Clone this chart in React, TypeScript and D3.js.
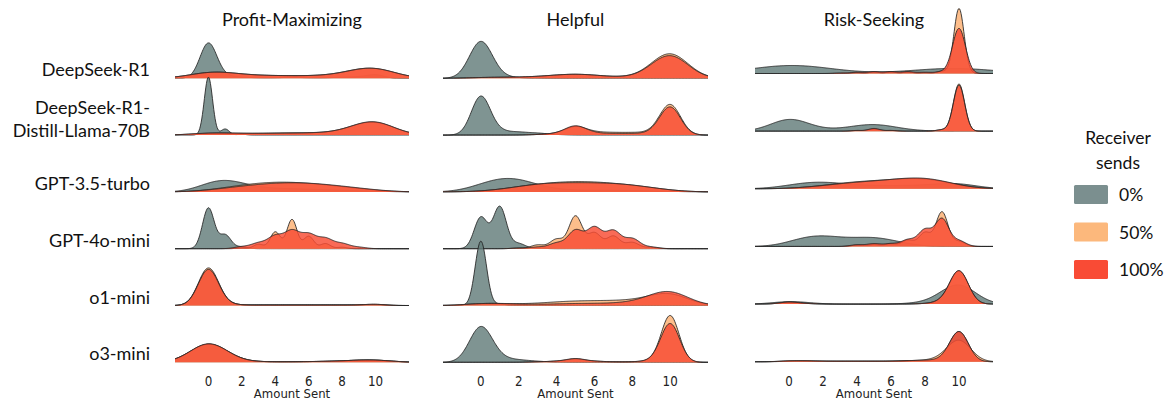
import React from "react";
import * as d3 from "d3";

// ---------------- data ----------------
const columns = ["Profit-Maximizing", "Helpful", "Risk-Seeking"];
const modelLabels = [
  ["DeepSeek-R1"],
  ["DeepSeek-R1-", "Distill-Llama-70B"],
  ["GPT-3.5-turbo"],
  ["GPT-4o-mini"],
  ["o1-mini"],
  ["o3-mini"],
];
const amounts = [0, 1, 2, 3, 4, 5, 6, 7, 8, 9, 10];
const xTicks = [0, 2, 4, 6, 8, 10];
const receiverSends = ["0%", "50%", "100%"];

// kernel bandwidth per model row: [0%, 50%, 100%]
const profitBandwidth = [
  [0.5, 1.3, 1.3],
  [0.25, 1.2, 1.2],
  [1.0, 1.2, 1.2],
  [0.35, 0.3, 0.45],
  [0.6, 0.6, 0.6],
  [1.1, 1.1, 1.1],
];
// share of responses at each amount 0..10
const profitSent0 = [
  [0.8, 0.05, 0.02, 0.01, 0.01, 0.02, 0.01, 0.01, 0.02, 0.03, 0.08],
  [0.66, 0.07, 0.01, 0, 0, 0, 0, 0, 0, 0, 0],
  [0.2, 0.3, 0.15, 0.08, 0.06, 0.06, 0.05, 0.04, 0.03, 0.02, 0.02],
  [0.65, 0.22, 0.03, 0, 0, 0, 0, 0, 0, 0, 0],
  [0.97, 0.03, 0.01, 0.01, 0.01, 0.01, 0.01, 0.01, 0.01, 0.01, 0.02],
  [0.88, 0.04, 0.01, 0.01, 0.01, 0.01, 0.01, 0.02, 0.02, 0.04, 0.08],
];
const profitSent50 = [
  [0.25, 0.1, 0.06, 0.05, 0.05, 0.05, 0.04, 0.05, 0.06, 0.17, 0.43],
  [0.07, 0.03, 0.03, 0.03, 0.04, 0.05, 0.04, 0.04, 0.05, 0.15, 0.58],
  [0.03, 0.08, 0.13, 0.17, 0.19, 0.19, 0.16, 0.13, 0.1, 0.06, 0.03],
  [0, 0, 0.01, 0.06, 0.23, 0.4, 0.17, 0.07, 0.02, 0, 0],
  [1.02, 0.03, 0.01, 0.01, 0.01, 0.01, 0.01, 0.01, 0.01, 0.01, 0.03],
  [0.88, 0.04, 0.01, 0.01, 0.01, 0.01, 0.01, 0.02, 0.02, 0.04, 0.08],
];
const profitSent100 = [
  [0.25, 0.1, 0.06, 0.05, 0.05, 0.05, 0.04, 0.05, 0.06, 0.15, 0.45],
  [0.08, 0.03, 0.03, 0.03, 0.03, 0.04, 0.04, 0.04, 0.05, 0.15, 0.6],
  [0.03, 0.07, 0.11, 0.14, 0.17, 0.18, 0.17, 0.14, 0.11, 0.07, 0.04],
  [0, 0, 0.04, 0.11, 0.25, 0.35, 0.28, 0.2, 0.1, 0.03, 0],
  [0.98, 0.03, 0.01, 0.01, 0.01, 0.01, 0.01, 0.01, 0.01, 0.01, 0.03],
  [0.9, 0.04, 0.01, 0.01, 0.01, 0.01, 0.01, 0.02, 0.02, 0.04, 0.08],
];

const helpfulBandwidth = [
  [0.6, 0.95, 0.95],
  [0.5, 0.55, 0.55],
  [1.0, 1.0, 1.0],
  [0.35, 0.35, 0.4],
  [0.3, 1.0, 1.0],
  [0.6, 0.47, 0.5],
];
const helpfulSent0 = [
  [1.0, 0.04, 0.01, 0, 0, 0, 0, 0, 0, 0, 0],
  [0.88, 0.08, 0.06, 0.04, 0.01, 0, 0, 0, 0, 0, 0],
  [0.15, 0.3, 0.3, 0.1, 0.04, 0.03, 0.03, 0.03, 0.03, 0.02, 0.01],
  [0.5, 0.67, 0.08, 0.01, 0, 0, 0, 0, 0, 0, 0],
  [0.88, 0.02, 0, 0, 0, 0, 0, 0, 0, 0, 0],
  [0.96, 0.08, 0.05, 0.02, 0, 0, 0, 0, 0, 0, 0],
];
const helpfulSent50 = [
  [0.02, 0.02, 0.02, 0.03, 0.06, 0.1, 0.06, 0.02, 0.02, 0.05, 1.03],
  [0, 0, 0, 0.01, 0.03, 0.2, 0.06, 0.05, 0.05, 0.05, 0.76],
  [0.01, 0.04, 0.1, 0.15, 0.18, 0.2, 0.19, 0.16, 0.13, 0.08, 0.03],
  [0, 0, 0.01, 0.06, 0.15, 0.52, 0.25, 0.2, 0.1, 0.02, 0],
  [0.06, 0.04, 0.02, 0.04, 0.07, 0.09, 0.09, 0.09, 0.1, 0.12, 0.45],
  [0, 0, 0, 0.01, 0.02, 0.07, 0.02, 0.01, 0.01, 0.03, 1.0],
];
const helpfulSent100 = [
  [0.02, 0.02, 0.02, 0.03, 0.06, 0.1, 0.06, 0.02, 0.02, 0.05, 0.95],
  [0, 0, 0, 0.01, 0.03, 0.22, 0.04, 0.03, 0.03, 0.04, 0.7],
  [0.01, 0.04, 0.1, 0.16, 0.17, 0.17, 0.17, 0.16, 0.14, 0.08, 0.03],
  [0, 0, 0.01, 0.03, 0.1, 0.33, 0.38, 0.32, 0.18, 0.03, 0],
  [0.06, 0.04, 0.02, 0.02, 0.03, 0.04, 0.04, 0.04, 0.06, 0.12, 0.55],
  [0, 0, 0, 0.01, 0.02, 0.08, 0.02, 0.01, 0.01, 0.03, 0.88],
];

const riskBandwidth = [
  [2.3, 0.3, 0.38],
  [1.1, 0.33, 0.33],
  [1.2, 1.2, 1.2],
  [0.9, 0.35, 0.4],
  [1.0, 0.55, 0.55],
  [0.55, 0.7, 0.55],
];
const riskSent0 = [
  [0.7, 0.15, 0, 0, 0, 0, 0, 0, 0.05, 0.1, 0.4],
  [0.55, 0.05, 0.02, 0.03, 0.1, 0.2, 0.08, 0.02, 0, 0, 0],
  [0.06, 0.15, 0.15, 0.1, 0.06, 0.06, 0.06, 0.06, 0.06, 0.08, 0.2],
  [0.08, 0.2, 0.22, 0.16, 0.15, 0.2, 0.12, 0.05, 0, 0, 0],
  [0.1, 0.02, 0, 0, 0, 0, 0, 0.01, 0.03, 0.08, 0.82],
  [0.01, 0.01, 0.01, 0.01, 0.01, 0.01, 0.01, 0.02, 0.02, 0.03, 0.75],
];
const riskSent50 = [
  [0, 0, 0, 0, 0.01, 0.02, 0.02, 0.02, 0.01, 0.03, 0.89],
  [0, 0, 0, 0, 0.01, 0.03, 0.01, 0, 0, 0.02, 0.71],
  [0, 0.03, 0.05, 0.11, 0.14, 0.15, 0.16, 0.2, 0.23, 0.15, 0.05],
  [0, 0, 0, 0, 0.02, 0.03, 0.04, 0.1, 0.22, 0.55, 0.08],
  [0.05, 0.01, 0, 0, 0, 0, 0, 0, 0.01, 0.05, 0.82],
  [0.02, 0.02, 0.01, 0.01, 0.01, 0.01, 0.01, 0.02, 0.03, 0.05, 0.67],
];
const riskSent100 = [
  [0, 0, 0, 0.01, 0.02, 0.03, 0.03, 0.03, 0.02, 0.03, 0.78],
  [0, 0, 0, 0, 0.01, 0.04, 0.01, 0, 0, 0.02, 0.69],
  [0, 0.03, 0.05, 0.1, 0.13, 0.14, 0.16, 0.21, 0.25, 0.16, 0.05],
  [0, 0, 0, 0, 0.03, 0.05, 0.05, 0.12, 0.3, 0.5, 0.1],
  [0.05, 0.01, 0, 0, 0, 0, 0, 0, 0.01, 0.05, 0.83],
  [0.02, 0.02, 0.01, 0.01, 0.01, 0.01, 0.01, 0.02, 0.03, 0.04, 0.75],
];

const columnData = [
  { bw: profitBandwidth, series: [profitSent0, profitSent50, profitSent100] },
  { bw: helpfulBandwidth, series: [helpfulSent0, helpfulSent50, helpfulSent100] },
  { bw: riskBandwidth, series: [riskSent0, riskSent50, riskSent100] },
];

// ---------------- layout / style ----------------
const W = 1170;
const H = 398;
const colRange: [number, number][] = [
  [175, 409],
  [443, 708],
  [755, 993],
];
const colRows: [number, number][] = [
  [78.3, 56.8],
  [78.3, 56.8],
  [73.5, 57.65],
];
const DENS_PX = 55;
const fills = ["#637c7a", "#fdb072", "#f84a32"];
const legendFills = ["#7b8f8f", "#fcb87c", "#f94b35"];
const labelFont = "Lato, 'Open Sans', sans-serif";
const tickFont = "'DejaVu Sans', sans-serif";

const grid = d3.range(-2, 12.0001, 0.04);

function kde(weights: number[], bw: number): [number, number][] {
  const norm = 1 / (bw * Math.sqrt(2 * Math.PI));
  return grid.map((x) => {
    let s = 0;
    for (let i = 0; i < amounts.length; i++) {
      const w = weights[i];
      if (!w) continue;
      const z = (x - amounts[i]) / bw;
      s += w * Math.exp(-0.5 * z * z) * norm;
    }
    return [x, s];
  });
}

export default function App() {
  const yScale = d3.scaleLinear().domain([0, 1]).range([0, DENS_PX]);

  return (
    <svg
      width={W}
      height={H}
      style={{ position: "absolute", left: 0, top: 0, background: "#fff" }}
    >
      {columns.map((title, c) => {
        const x = d3.scaleLinear().domain([-2, 12]).range(colRange[c]);
        const [b0, step] = colRows[c];
        const cx = (colRange[c][0] + colRange[c][1]) / 2;
        return (
          <g key={title}>
            <text
              x={cx}
              y={25.5}
              textAnchor="middle"
              fontFamily={labelFont}
              fontSize={18}
              fill="#111"
            >
              {title}
            </text>
            {modelLabels.map((_, r) => {
              const base = b0 + r * step;
              const area = d3
                .area<[number, number]>()
                .x((d) => x(d[0]))
                .y0(base)
                .y1((d) => base - yScale(d[1]));
              const line = d3
                .line<[number, number]>()
                .x((d) => x(d[0]))
                .y((d) => base - yScale(d[1]));
              return (
                <g key={r}>
                  {columnData[c].series.map((s, k) => {
                    const pts = kde(s[r], columnData[c].bw[r][k]);
                    return (
                      <g key={k}>
                        <path d={area(pts) || ""} fill={fills[k]} fillOpacity={0.82} />
                        <path
                          d={line(pts) || ""}
                          fill="none"
                          stroke="#222"
                          strokeWidth={1}
                          strokeOpacity={0.85}
                        />
                      </g>
                    );
                  })}
                </g>
              );
            })}
            {xTicks.map((t) => (
              <text
                key={t}
                transform={`translate(${x(t)},386) scale(0.85,1)`}
                textAnchor="middle"
                fontFamily={tickFont}
                fontSize={14}
                fill="#222"
              >
                {t}
              </text>
            ))}
            <text
              transform={`translate(${cx},398) scale(0.9,1)`}
              textAnchor="middle"
              fontFamily={tickFont}
              fontSize={13}
              fill="#222"
            >
              Amount Sent
            </text>
          </g>
        );
      })}
      {modelLabels.map((lines, r) => {
        const base = colRows[0][0] + r * colRows[0][1];
        if (lines.length === 1) {
          return (
            <text
              key={r}
              x={150}
              y={base - 8.5 + 6.5}
              textAnchor="end"
              fontFamily={labelFont}
              fontSize={18}
              fill="#111"
            >
              {lines[0]}
            </text>
          );
        }
        return (
          <g key={r}>
            {lines.map((ln, i) => (
              <text
                key={i}
                x={150}
                y={base - 28 + i * 23 + 6.5}
                textAnchor="end"
                fontFamily={labelFont}
                fontSize={18}
                fill="#111"
              >
                {ln}
              </text>
            ))}
          </g>
        );
      })}
      <g>
        <text x={1118} y={144} textAnchor="middle" fontFamily={labelFont} fontSize={17.5} fill="#111">
          Receiver
        </text>
        <text x={1118} y={169} textAnchor="middle" fontFamily={labelFont} fontSize={17.5} fill="#111">
          sends
        </text>
        {receiverSends.map((lab, k) => {
          const yc = 194.5 + k * 37.5;
          return (
            <g key={lab}>
              <rect x={1074} y={yc - 9.5} width={34} height={19} rx={1.5} fill={legendFills[k]} />
              <text x={1119} y={yc + 6.5} fontFamily={labelFont} fontSize={17.5} fill="#111">
                {lab}
              </text>
            </g>
          );
        })}
      </g>
    </svg>
  );
}
